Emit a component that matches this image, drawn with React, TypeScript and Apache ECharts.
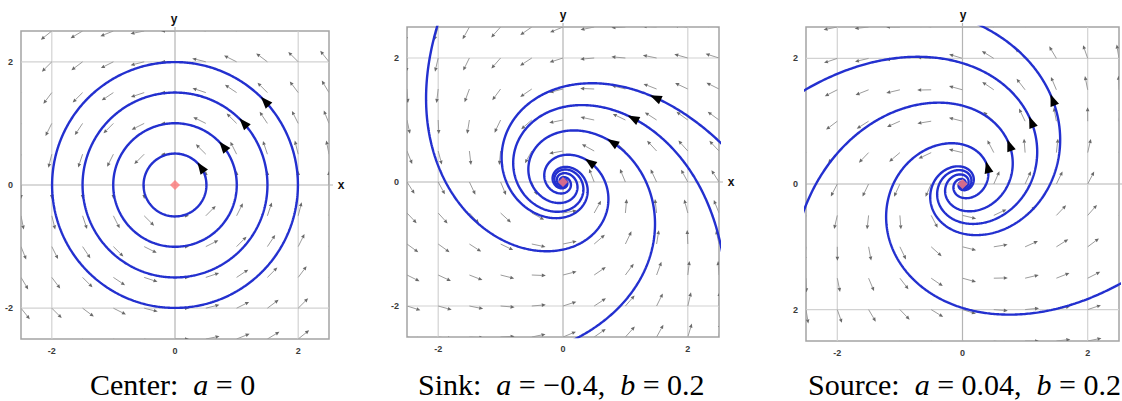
import React, { useEffect, useRef } from "react";
import * as echarts from "echarts";

// Panel names and the parameters printed under each portrait
const panelNames = ["Center", "Sink", "Source"];
const paramA = [0, -0.4, 0.04];
const paramB: (number | null)[] = [null, 0.2, 0.2];

// Radial rate of each system, relative to the unit rotation:
// rho(r) = baseRate + cubicRate * r^2, plus a stretch of strength shearAmp
// along the direction shearAngle (degrees)
const baseRate = [0, -0.27, 0.33];
const cubicRate = [0, -0.04, 0.02];
const shearAmp = [0, -0.1, 0.1];
const shearAngle = [0, 8, 165];

// Start points of the drawn trajectories (shown with black arrowheads)
const startsCenter = [[0.42, 0.29], [0.78, 0.63], [1.11, 1.01], [1.46, 1.36]];
const startsSink = [[0.43, 0.32], [0.79, 0.64], [1.12, 1.03], [1.48, 1.36]];
const startsSource = [[0.40, 0.27], [0.75, 0.62], [1.10, 0.99], [1.44, 1.34]];
const startPoints = [startsCenter, startsSink, startsSource];

// Direction-field sample positions and tick labels
const fieldSteps = [-2.5, -2, -1.5, -1, -0.5, 0, 0.5, 1, 1.5, 2, 2.5];
const tickValues = [-2, 0, 2];
const xTickLabels = ["-2", "0", "2"];
const yTickLabels = [["-2", "0", "2"], ["-2", "0", "2"], ["2", "0", "2"]];
const axisMin = -2.5;
const axisMax = 2.5;

function field(p: number, x: number, y: number): [number, number] {
  const rho = baseRate[p] + cubicRate[p] * (x * x + y * y);
  const phi = (shearAngle[p] * Math.PI) / 90;
  const c2 = Math.cos(phi);
  const s2 = Math.sin(phi);
  const sx = shearAmp[p] * (c2 * x + s2 * y);
  const sy = shearAmp[p] * (s2 * x - c2 * y);
  return [rho * x - y + sx, x + rho * y + sy];
}

function rk4(p: number, x: number, y: number, h: number): [number, number] {
  const [k1x, k1y] = field(p, x, y);
  const [k2x, k2y] = field(p, x + (h / 2) * k1x, y + (h / 2) * k1y);
  const [k3x, k3y] = field(p, x + (h / 2) * k2x, y + (h / 2) * k2y);
  const [k4x, k4y] = field(p, x + h * k3x, y + h * k3y);
  return [
    x + (h / 6) * (k1x + 2 * k2x + 2 * k3x + k4x),
    y + (h / 6) * (k1y + 2 * k2y + 2 * k3y + k4y),
  ];
}

function integrate(p: number, start: number[], dir: number, tMax: number) {
  const h = 0.01 * dir;
  const n = Math.round(tMax / 0.01);
  const pts: number[][] = [];
  let x = start[0];
  let y = start[1];
  for (let i = 0; i < n; i++) {
    [x, y] = rk4(p, x, y, h);
    pts.push([x, y]);
    if (Math.abs(x) > 2.7 || Math.abs(y) > 2.7) break;
    if (x * x + y * y < 4e-5) break;
  }
  return pts;
}

function trajectory(p: number, start: number[]) {
  if (p === 0) {
    return [start, ...integrate(p, start, 1, 6.3)];
  }
  const back = integrate(p, start, -1, 80).reverse();
  const fwd = integrate(p, start, 1, 80);
  return [...back, start, ...fwd];
}

function fmt(v: number) {
  return v < 0 ? "\u2212" + String(-v) : String(v);
}

function caption(p: number) {
  let s = `{r|${panelNames[p]}:\u00a0\u00a0}{i|a}{r|\u00a0=\u00a0${fmt(paramA[p])}}`;
  if (paramB[p] !== null) {
    s += `{r|,\u00a0\u00a0}{i|b}{r|\u00a0=\u00a0${fmt(paramB[p] as number)}}`;
  }
  return s;
}

function buildOption() {
  const boxes = [
    { left: 21, top: 31, width: 308, height: 308 },
    { left: 407, top: 27, width: 312, height: 310 },
    { left: 806, top: 27, width: 313, height: 314 },
  ];
  const captionX = [90, 418, 808];
  const fieldData: number[][] = [];
  fieldSteps.forEach((x) => fieldSteps.forEach((y) => fieldData.push([x, y])));

  const grid = boxes.map((b) => ({
    ...b,
    show: true,
    borderColor: "#a4a4a4",
    borderWidth: 1.5,
    backgroundColor: "transparent",
  }));

  const labelStyle = {
    fontFamily: "Liberation Sans",
    fontWeight: "bold" as const,
    fontSize: 9,
    color: "#3a3a3a",
  };

  const xAxis = boxes.map((_, p) => ({
    type: "value" as const,
    gridIndex: p,
    min: axisMin,
    max: axisMax,
    interval: 0.5,
    axisLine: { show: false },
    axisTick: { show: false },
    splitLine: { show: false },
    axisLabel: {
      ...labelStyle,
      margin: 7,
      formatter: (v: number) => {
        const i = tickValues.indexOf(v);
        return i >= 0 ? xTickLabels[i] : "";
      },
    },
  }));
  const yAxis = boxes.map((_, p) => ({
    type: "value" as const,
    gridIndex: p,
    min: axisMin,
    max: axisMax,
    interval: 0.5,
    axisLine: { show: false },
    axisTick: { show: false },
    splitLine: { show: false },
    axisLabel: {
      ...labelStyle,
      margin: 8,
      formatter: (v: number) => {
        const i = tickValues.indexOf(v);
        return i >= 0 ? yTickLabels[p][i] : "";
      },
    },
  }));

  const series: any[] = [];
  boxes.forEach((_, p) => {
    // grid lines at the labelled values
    series.push({
      type: "custom",
      xAxisIndex: p,
      yAxisIndex: p,
      silent: true,
      z: 1,
      data: tickValues.map((v) => [v]),
      renderItem: (params: any, api: any) => {
        const v = api.value(0);
        const a = api.coord([v, axisMin]);
        const b = api.coord([v, axisMax]);
        const c = api.coord([axisMin, v]);
        const d = api.coord([axisMax, v]);
        const stroke = v === 0 ? "#b4b4b4" : "#d2d2d2";
        const ext = v === 0 ? 4 : 0;
        return {
          type: "group",
          children: [
            { type: "line", shape: { x1: a[0], y1: a[1], x2: b[0], y2: b[1] - ext }, style: { stroke, lineWidth: 1.2 } },
            { type: "line", shape: { x1: c[0], y1: c[1], x2: d[0] + ext, y2: d[1] }, style: { stroke, lineWidth: 1.2 } },
          ],
        };
      },
    });

    // direction field
    series.push({
      type: "custom",
      xAxisIndex: p,
      yAxisIndex: p,
      silent: true,
      clip: true,
      z: 2,
      data: fieldData,
      renderItem: (params: any, api: any) => {
        const x = api.value(0);
        const y = api.value(1);
        const [dx, dy] = field(p, x, y);
        const m = Math.hypot(dx, dy);
        if (m < 1e-9) return null;
        const p0 = api.coord([x, y]);
        const q = api.coord([x + (dx / m) * 0.01, y + (dy / m) * 0.01]);
        let ux = q[0] - p0[0];
        let uy = q[1] - p0[1];
        const l = Math.hypot(ux, uy);
        ux /= l;
        uy /= l;
        const L = 14;
        const tip = [p0[0] + ux * L, p0[1] + uy * L];
        const base = [tip[0] - ux * 4, tip[1] - uy * 4];
        return {
          type: "group",
          children: [
            { type: "line", shape: { x1: p0[0], y1: p0[1], x2: base[0], y2: base[1] }, style: { stroke: "#9c9c9c", lineWidth: 1 } },
            {
              type: "polygon",
              shape: {
                points: [
                  tip,
                  [base[0] - uy * 1.8, base[1] + ux * 1.8],
                  [base[0] + uy * 1.8, base[1] - ux * 1.8],
                ],
              },
              style: { fill: "#6a6a6a" },
            },
          ],
        };
      },
    });

    // trajectories
    startPoints[p].forEach((s) => {
      series.push({
        type: "line",
        xAxisIndex: p,
        yAxisIndex: p,
        silent: true,
        clip: true,
        z: 3,
        showSymbol: false,
        symbol: "none",
        smooth: false,
        data: trajectory(p, s),
        lineStyle: { color: "#2330cf", width: 2.4 },
      });
    });

    // arrowheads at the start points
    series.push({
      type: "custom",
      xAxisIndex: p,
      yAxisIndex: p,
      silent: true,
      z: 4,
      data: startPoints[p],
      renderItem: (params: any, api: any) => {
        const x = api.value(0);
        const y = api.value(1);
        const [dx, dy] = field(p, x, y);
        const m = Math.hypot(dx, dy);
        const c = api.coord([x, y]);
        const q = api.coord([x + (dx / m) * 0.01, y + (dy / m) * 0.01]);
        let ux = q[0] - c[0];
        let uy = q[1] - c[1];
        const l = Math.hypot(ux, uy);
        ux /= l;
        uy /= l;
        const tip = [c[0] + ux * 6, c[1] + uy * 6];
        const bc = [c[0] - ux * 6, c[1] - uy * 6];
        return {
          type: "polygon",
          shape: {
            points: [tip, [bc[0] - uy * 4.5, bc[1] + ux * 4.5], [bc[0] + uy * 4.5, bc[1] - ux * 4.5]],
          },
          style: { fill: "#000000" },
        };
      },
    });

    // equilibrium
    series.push({
      type: "scatter",
      xAxisIndex: p,
      yAxisIndex: p,
      silent: true,
      z: 5,
      symbol: "diamond",
      symbolSize: 10,
      itemStyle: { color: "#ff7b7b" },
      data: [[0, 0]],
    });
  });

  const axisNameStyle = {
    fontFamily: "Liberation Sans",
    fontWeight: "bold" as const,
    fontSize: 12,
    fill: "#111111",
    align: "center" as const,
    verticalAlign: "middle" as const,
  };
  const graphic: any[] = [
    { type: "text", x: 174, y: 19, style: { ...axisNameStyle, text: "y" } },
    { type: "text", x: 341, y: 185, style: { ...axisNameStyle, text: "x" } },
    { type: "text", x: 563, y: 15, style: { ...axisNameStyle, text: "y" } },
    { type: "text", x: 731, y: 182, style: { ...axisNameStyle, text: "x" } },
    { type: "text", x: 963, y: 15, style: { ...axisNameStyle, text: "y" } },
  ];
  [0, 1, 2].forEach((p) => {
    graphic.push({
      type: "text",
      x: captionX[p],
      y: 384,
      style: {
        text: caption(p),
        align: "left",
        verticalAlign: "middle",
        fill: "#000000",
        rich: {
          r: { fontFamily: "Liberation Serif", fontSize: 30, lineHeight: 30, fill: "#000000" },
          i: { fontFamily: "Liberation Serif", fontStyle: "italic", fontSize: 30, lineHeight: 30, fill: "#000000" },
        },
      },
    });
  });

  return {
    animation: false,
    backgroundColor: "#ffffff",
    grid,
    xAxis,
    yAxis,
    series,
    graphic,
  };
}

export default function App() {
  const ref = useRef<HTMLDivElement>(null);
  useEffect(() => {
    document.body.style.margin = "0";
    const chart = echarts.init(ref.current as HTMLDivElement, null, { renderer: "svg" });
    chart.setOption(buildOption());
    return () => chart.dispose();
  }, []);
  return <div ref={ref} style={{ width: 1122, height: 401 }} />;
}
